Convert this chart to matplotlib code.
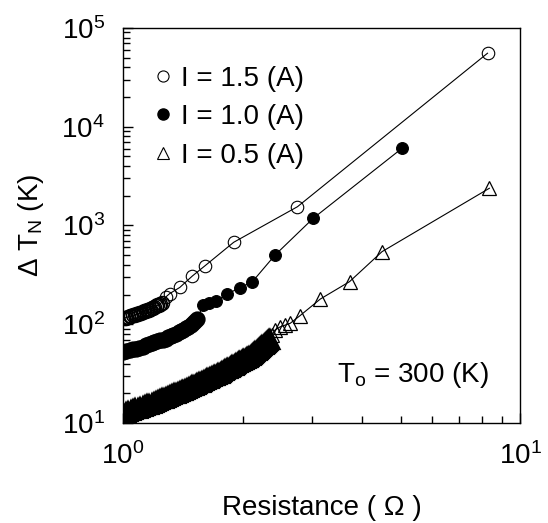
import matplotlib
matplotlib.use("Agg")
import matplotlib.pyplot as plt
from matplotlib.ticker import NullFormatter

plt.rcParams['font.family'] = ['Liberation Sans', 'DejaVu Sans']
plt.rcParams['mathtext.fontset'] = 'custom'
plt.rcParams['mathtext.rm'] = 'Liberation Sans'
plt.rcParams['mathtext.it'] = 'Liberation Sans:italic'

# I = 1.5 A (open circles): dense low-R run, then sparse points
r_15_dense = [1.00, 1.01, 1.02, 1.03, 1.04, 1.05, 1.06, 1.07, 1.08, 1.09,
              1.10, 1.11, 1.12, 1.13, 1.14, 1.15, 1.16, 1.17, 1.18, 1.19,
              1.20, 1.21, 1.22, 1.23, 1.24, 1.25]
t_15_dense = [115, 116, 117, 119, 120, 122, 123, 125, 126, 128,
              129, 131, 133, 135, 137, 139, 141, 143, 145, 147,
              149, 152, 155, 158, 161, 165]
r_15 = [1.28, 1.31, 1.39, 1.495, 1.61, 1.90, 2.75, 8.28]
t_15 = [188, 204, 236, 308, 392, 676, 1549, 55500]

# I = 1.0 A (filled circles)
r_10_dense = [1.00, 1.02, 1.04, 1.06, 1.08, 1.10, 1.12, 1.14, 1.16, 1.18,
              1.20, 1.22, 1.24, 1.26, 1.28, 1.30, 1.32, 1.34, 1.36, 1.38,
              1.40, 1.42, 1.44, 1.46, 1.48, 1.50, 1.52, 1.54]
t_10_dense = [52.5, 53.5, 54.5, 55.5, 56.5, 58, 59.5, 61, 62.5, 64,
              65.5, 67, 68.5, 70, 71.5, 73.5, 75.5, 78, 80.5, 83,
              85.5, 88, 91, 94, 98, 102, 107, 113]
r_10 = [1.59, 1.647, 1.715, 1.825, 1.971, 2.118, 2.415, 3.01, 5.045]
t_10 = [157, 164, 170, 202, 234, 270, 502, 1178, 6055]

# I = 0.5 A (open triangles)
r_05_dense = [1.000, 1.015, 1.030, 1.045, 1.060, 1.075, 1.090, 1.105, 1.120, 1.135,
              1.150, 1.165, 1.180, 1.195, 1.210, 1.225, 1.240, 1.255, 1.270, 1.285,
              1.300, 1.315, 1.330, 1.345, 1.360, 1.375, 1.390, 1.405, 1.420, 1.435,
              1.450, 1.465, 1.480, 1.495, 1.510, 1.525, 1.540, 1.555, 1.570, 1.585,
              1.600, 1.615, 1.630, 1.645, 1.660, 1.675, 1.690, 1.705, 1.720, 1.735,
              1.750, 1.765, 1.780, 1.795, 1.810, 1.825, 1.840, 1.855, 1.870, 1.885,
              1.900, 1.915, 1.930, 1.945, 1.960, 1.975, 1.990, 2.005, 2.020, 2.035,
              2.050, 2.065, 2.080, 2.095, 2.110, 2.125, 2.140, 2.155, 2.170, 2.185,
              2.200, 2.215, 2.230, 2.245, 2.260, 2.275, 2.290, 2.305, 2.320, 2.335,
              2.350]
t_05_dense = [12.5, 12.75, 13.0, 13.25, 13.5, 13.75, 14.0, 14.25, 14.5, 14.8,
              15.1, 15.35, 15.6, 15.95, 16.3, 16.65, 17.0, 17.35, 17.7, 18.05,
              18.4, 18.75, 19.1, 19.45, 19.8, 20.2, 20.6, 20.95, 21.3, 21.75,
              22.2, 22.6, 23.0, 23.45, 23.9, 24.35, 24.8, 25.25, 25.7, 26.2,
              26.7, 27.15, 27.6, 28.1, 28.6, 29.1, 29.6, 30.1, 30.6, 31.15,
              31.7, 32.35, 33.0, 33.6, 34.2, 34.85, 35.5, 36.15, 36.8, 37.5,
              38.2, 38.9, 39.6, 40.3, 41.0, 41.7, 42.4, 43.15, 43.9, 44.6,
              45.3, 46.05, 46.8, 47.65, 48.5, 49.7, 50.9, 52.1, 53.3, 54.6,
              55.9, 57.2, 58.5, 59.85, 61.2, 62.65, 64.1, 65.55, 67.0, 68.5,
              70]
r_05 = [2.37, 2.415, 2.486, 2.56, 2.635, 2.79, 3.14, 3.72, 4.49, 8.37]
t_05 = [78, 87.5, 94, 98, 102, 122, 180, 270, 543, 2383]

labels = ['I = 1.5 (A)', 'I = 1.0 (A)', 'I = 0.5 (A)']

fig = plt.figure(figsize=(5.48, 5.23), dpi=100)
ax = fig.add_axes([0.2245, 0.1912, 0.7245, 0.7553])

# connecting lines through every point
ax.plot(r_05_dense + r_05, t_05_dense + t_05, color='black', lw=0.8)
ax.plot(r_10_dense + r_10, t_10_dense + t_10, color='black', lw=0.8)
ax.plot(r_15_dense + r_15, t_15_dense + t_15, color='black', lw=0.8)

# markers (dense runs drawn heavier, as the many overlapping symbols in the original)
ax.plot(r_05_dense, t_05_dense, ls='none', marker='^', ms=12,
        mfc='none', mec='black', mew=3.0)
ax.plot(r_05, t_05, ls='none', marker='^', ms=10,
        mfc='none', mec='black', mew=0.9)
ax.plot(r_10_dense, t_10_dense, ls='none', marker='o', ms=10.5,
        mfc='black', mec='black', mew=1.2)
ax.plot(r_10, t_10, ls='none', marker='o', ms=8.5,
        mfc='black', mec='black', mew=0.8)
ax.plot(r_15_dense, t_15_dense, ls='none', marker='o', ms=10,
        mfc='none', mec='black', mew=1.1)
ax.plot(r_15, t_15, ls='none', marker='o', ms=9,
        mfc='none', mec='black', mew=0.8)

ax.set_xscale('log')
ax.set_yscale('log')
ax.set_xlim(1, 10)
ax.set_ylim(10, 1e5)
ax.xaxis.set_minor_formatter(NullFormatter())
ax.yaxis.set_minor_formatter(NullFormatter())

for s in ax.spines.values():
    s.set_linewidth(1.0)

ax.tick_params(which='both', direction='in', top=False, right=False,
               width=1.0, labelsize=20)
ax.tick_params(which='major', length=7)
ax.tick_params(which='minor', length=5)
ax.tick_params(axis='x', which='major', pad=14)
ax.tick_params(axis='y', which='major', pad=13)

ax.set_xlabel('Resistance ( Ω )', fontsize=20, labelpad=18)
ax.set_ylabel('Δ T$_\\mathregular{N}$ (K)', fontsize=20, labelpad=11)

# legend: markers only
h1, = ax.plot([], [], ls='none', marker='o', ms=8, mfc='none', mec='black', mew=0.8)
h2, = ax.plot([], [], ls='none', marker='o', ms=8, mfc='black', mec='black')
h3, = ax.plot([], [], ls='none', marker='^', ms=9, mfc='none', mec='black', mew=0.8)
ax.legend([h1, h2, h3], labels, loc='upper left', bbox_to_anchor=(0.072, 0.905),
          frameon=False, fontsize=20, handlelength=0.8, handletextpad=0.25,
          labelspacing=0.45, borderpad=0, borderaxespad=0)

ax.text(0.922, 0.105, 'T$_\\mathregular{o}$ = 300 (K)', transform=ax.transAxes,
        ha='right', va='baseline', fontsize=20)

fig.savefig('out.png', dpi=100)
